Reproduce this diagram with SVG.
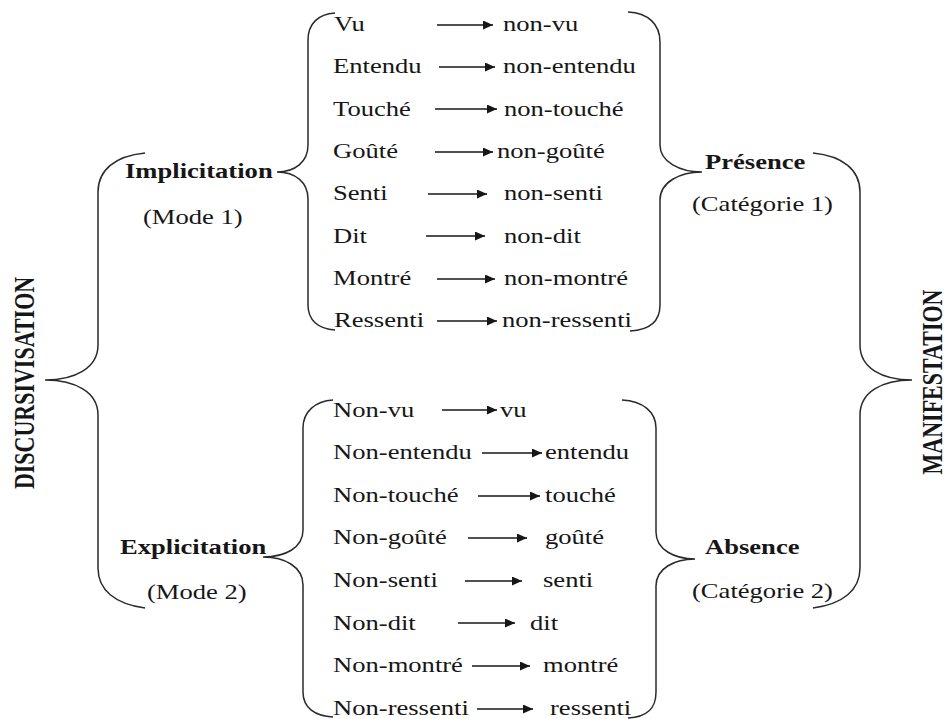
<svg xmlns="http://www.w3.org/2000/svg" width="949" height="719" viewBox="0 0 949 719">
<style>
  text { font-family: "Liberation Serif", "Times New Roman", serif; font-size: 20px; fill: #161616; }
  .b { font-weight: bold; }
  .big { font-weight: bold; font-size: 22px; text-anchor: middle; }
  .brace { fill: none; stroke: #2a2a2a; stroke-width: 1.5; }
  .arrow { fill: none; stroke: #161616; stroke-width: 1.4; marker-end: url(#ah); }
</style>
<defs>
  <marker id="ah" markerUnits="userSpaceOnUse" markerWidth="11" markerHeight="9" refX="10" refY="4.5" orient="auto">
    <path d="M0,0 L10,4.5 L0,9 z" fill="#161616"/>
  </marker>
</defs>
<rect width="949" height="719" fill="#ffffff"/>

<g id="braces">
  <path class="brace" d="M145,153 C115,156 98,170 98,192 L98,345 C98,368 75,380 45,380 C75,380 98,392 98,415 L98,568 C98,590 115,604 145,608"/>
  <path class="brace" d="M335,13 C318,14 308,24 308,40 L308,145 C308,162 295,172 277,172 C295,172 308,182 308,199 L308,305 C308,320 318,329 335,330"/>
  <path class="brace" d="M628,12 C648,13 660,24 660,42 L660,145 C660,162 680,172 702,172 C680,172 660,182 660,200 L660,305 C660,322 650,330 630,331"/>
  <path class="brace" d="M333,400 C315,401 303,412 303,428 L303,530 C303,548 285,557 263,557 C285,557 303,567 303,585 L303,692 C303,708 315,716 333,717"/>
  <path class="brace" d="M622,400 C643,401 656,412 656,428 L656,532 C656,550 675,559 695,559 C675,559 656,568 656,586 L656,692 C656,708 648,717 628,718"/>
  <path class="brace" d="M813,153 C843,156 860,170 860,192 L860,345 C860,368 882,380 912,380 C882,380 860,392 860,415 L860,568 C860,590 843,604 813,608"/>
</g>

<g id="connectors">
  <line class="arrow" x1="437" y1="25" x2="493" y2="25"/>
  <line class="arrow" x1="439" y1="67" x2="495" y2="67"/>
  <line class="arrow" x1="435" y1="109" x2="497" y2="109"/>
  <line class="arrow" x1="435" y1="152" x2="493" y2="152"/>
  <line class="arrow" x1="428" y1="194" x2="487" y2="194"/>
  <line class="arrow" x1="426" y1="236" x2="485" y2="236"/>
  <line class="arrow" x1="437" y1="279" x2="495" y2="279"/>
  <line class="arrow" x1="437" y1="321" x2="497" y2="321"/>

  <line class="arrow" x1="442" y1="410" x2="497" y2="410"/>
  <line class="arrow" x1="482" y1="453" x2="542" y2="453"/>
  <line class="arrow" x1="478" y1="496" x2="540" y2="496"/>
  <line class="arrow" x1="468" y1="538" x2="527" y2="538"/>
  <line class="arrow" x1="465" y1="581" x2="522" y2="581"/>
  <line class="arrow" x1="458" y1="623" x2="515" y2="623"/>
  <line class="arrow" x1="472" y1="666" x2="530" y2="666"/>
  <line class="arrow" x1="477" y1="709" x2="533" y2="709"/>
</g>

<g id="discursivisation">
  <text class="big" transform="translate(34 383) scale(1.33 1) rotate(-90)">DISCURSIVISATION</text>
</g>
<g id="manifestation">
  <text class="big" transform="translate(942 382) scale(1.3 1) rotate(-90)">MANIFESTATION</text>
</g>

<g id="implicitation">
  <text class="b" transform="translate(125 178) scale(1.33 1)">Implicitation</text>
  <text transform="translate(143 224) scale(1.33 1)">(Mode 1)</text>
</g>
<g id="explicitation">
  <text class="b" transform="translate(120 554) scale(1.33 1)">Explicitation</text>
  <text transform="translate(147 599) scale(1.33 1)">(Mode 2)</text>
</g>
<g id="presence">
  <text class="b" transform="translate(705 169) scale(1.33 1)">Présence</text>
  <text transform="translate(692 211) scale(1.33 1)">(Catégorie 1)</text>
</g>
<g id="absence">
  <text class="b" transform="translate(705 554) scale(1.33 1)">Absence</text>
  <text transform="translate(692 598) scale(1.33 1)">(Catégorie 2)</text>
</g>

<g id="mode1-list">
  <g id="row-vu"><text transform="translate(334 31) scale(1.33 1)">Vu</text><text transform="translate(503 31) scale(1.33 1)">non-vu</text></g>
  <g id="row-entendu"><text transform="translate(333 73.3) scale(1.33 1)">Entendu</text><text transform="translate(503 73.3) scale(1.33 1)">non-entendu</text></g>
  <g id="row-touche"><text transform="translate(333 115.6) scale(1.33 1)">Touché</text><text transform="translate(504 115.6) scale(1.33 1)">non-touché</text></g>
  <g id="row-goute"><text transform="translate(333 157.9) scale(1.33 1)">Goûté</text><text transform="translate(497 157.9) scale(1.33 1)">non-goûté</text></g>
  <g id="row-senti"><text transform="translate(333 200.2) scale(1.33 1)">Senti</text><text transform="translate(504 200.2) scale(1.33 1)">non-senti</text></g>
  <g id="row-dit"><text transform="translate(333 242.5) scale(1.33 1)">Dit</text><text transform="translate(504 242.5) scale(1.33 1)">non-dit</text></g>
  <g id="row-montre"><text transform="translate(333 284.8) scale(1.33 1)">Montré</text><text transform="translate(504 284.8) scale(1.33 1)">non-montré</text></g>
  <g id="row-ressenti"><text transform="translate(334 327.1) scale(1.33 1)">Ressenti</text><text transform="translate(502 327.1) scale(1.33 1)">non-ressenti</text></g>
</g>

<g id="mode2-list">
  <g id="row-non-vu"><text transform="translate(333 416.5) scale(1.33 1)">Non-vu</text><text transform="translate(500 416.5) scale(1.33 1)">vu</text></g>
  <g id="row-non-entendu"><text transform="translate(333 459.1) scale(1.33 1)">Non-entendu</text><text transform="translate(545 459.1) scale(1.33 1)">entendu</text></g>
  <g id="row-non-touche"><text transform="translate(333 501.7) scale(1.33 1)">Non-touché</text><text transform="translate(545 501.7) scale(1.33 1)">touché</text></g>
  <g id="row-non-goute"><text transform="translate(333 544.3) scale(1.33 1)">Non-goûté</text><text transform="translate(545 544.3) scale(1.33 1)">goûté</text></g>
  <g id="row-non-senti"><text transform="translate(333 586.9) scale(1.33 1)">Non-senti</text><text transform="translate(543 586.9) scale(1.33 1)">senti</text></g>
  <g id="row-non-dit"><text transform="translate(333 629.5) scale(1.33 1)">Non-dit</text><text transform="translate(530 629.5) scale(1.33 1)">dit</text></g>
  <g id="row-non-montre"><text transform="translate(333 672.1) scale(1.33 1)">Non-montré</text><text transform="translate(543 672.1) scale(1.33 1)">montré</text></g>
  <g id="row-non-ressenti"><text transform="translate(333 714.7) scale(1.33 1)">Non-ressenti</text><text transform="translate(550 714.7) scale(1.33 1)">ressenti</text></g>
</g>
</svg>
